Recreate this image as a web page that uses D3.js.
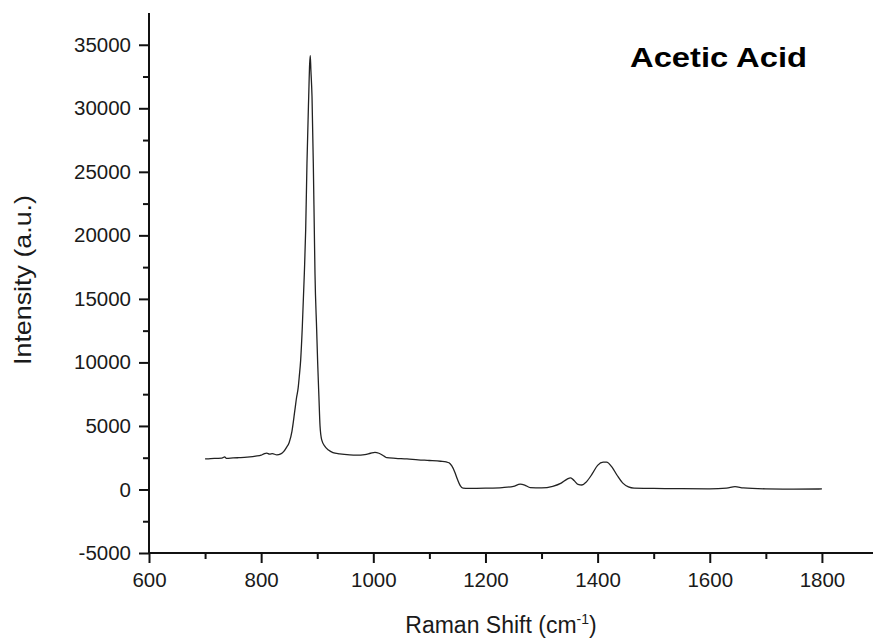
<!DOCTYPE html>
<html>
<head>
<meta charset="utf-8">
<script src="https://cdn.jsdelivr.net/npm/d3@7/dist/d3.min.js"></script>
<style>
    body { margin: 0; background: #fff; }
    svg text { font-family: "Liberation Sans", Arial, sans-serif; fill: #1a1a1a; }
    .tickLabel { font-size: 20.5px; }
    .axisLabel { font-size: 23px; }
    .title { font-size: 27px; font-weight: bold; fill: #000; }
</style>
</head>
<body>
<div id="wrapper"></div>
<script>
// Raman spectrum of acetic acid
const ramanShift = [700, 710, 720, 730, 735, 738, 750, 760, 770, 780, 790, 800, 805, 810, 815, 820, 828, 835, 840, 845,
    850, 855, 860, 863, 866, 868, 870.5, 873.4, 877, 879.4, 881.7, 884.8, 886.5, 887.6, 888.7, 890.7, 893, 894.8, 896, 899,
    900.8, 903, 905, 908, 914, 920, 928, 940, 958, 970, 985, 995, 1003, 1010, 1020, 1024, 1040, 1060, 1080, 1100,
    1120, 1130, 1135, 1140, 1145, 1150, 1155, 1160, 1170, 1200, 1230, 1250, 1262, 1270, 1280, 1300, 1320, 1335, 1345, 1352,
    1358, 1365, 1372, 1380, 1390, 1400, 1410, 1416, 1425, 1435, 1445, 1455, 1465, 1500, 1550, 1600, 1630, 1645, 1660, 1700,
    1750, 1800];
const intensity = [2400, 2430, 2450, 2470, 2560, 2450, 2480, 2500, 2520, 2560, 2620, 2700, 2800, 2860, 2780, 2820, 2720, 2800, 2980, 3300,
    3700, 4600, 6200, 7200, 8000, 8900, 10200, 12800, 17000, 20430, 25680, 30930, 33500, 34150, 33000, 30930, 25680, 20430, 17000, 12560,
    9960, 7300, 5000, 3900, 3370, 3100, 2900, 2800, 2720, 2700, 2750, 2850, 2920, 2850, 2600, 2500, 2450, 2400, 2330, 2280,
    2220, 2170, 2100, 1850, 1400, 800, 300, 100, 80, 100, 150, 250, 420, 350, 150, 120, 250, 500, 800, 920,
    700, 400, 350, 600, 1200, 1900, 2150, 2150, 1800, 1100, 500, 200, 100, 80, 60, 50, 100, 220, 120, 50,
    30, 40];

const xMajorTicks = [600, 800, 1000, 1200, 1400, 1600, 1800];
const xMinorTicks = [700, 900, 1100, 1300, 1500, 1700];
const yMajorTicks = [-5000, 0, 5000, 10000, 15000, 20000, 25000, 30000, 35000];
const yMinorTicks = [-2500, 2500, 7500, 12500, 17500, 22500, 27500, 32500];

const titleText = "Acetic Acid";

function drawChart() {
    const width = 873;
    const height = 642;

    // Achsen-Position in Pixel
    const dims = {
        left: 149,
        right: 878,
        top: 13,
        bottom: 553
    };

    const svg = d3.select('#wrapper')
        .append('svg')
        .attr('width', width)
        .attr('height', height);

    const x = d3.scaleLinear()
        .domain([600, 1900])
        .range([dims.left, dims.right]);

    const y = d3.scaleLinear()
        .domain([-5000, 37500])
        .range([dims.bottom, dims.top]);

    const data = ramanShift.map((d, i) => ({ x: d, y: intensity[i] }));

    // Bindestrich statt Unicode-Minus wie im Original
    const plainFormat = d => String(d);

    /// KURVE ///////////////////////////////
    const line = d3.line()
        .x(d => x(d.x))
        .y(d => y(d.y))
        .curve(d3.curveMonotoneX);

    svg.append('path')
        .datum(data)
        .attr('d', line)
        .attr('fill', 'none')
        .attr('stroke', '#222')
        .attr('stroke-width', 1.3)
        .attr('stroke-linejoin', 'round');

    /// ACHSEN ///////////////////////////////
    const xAxis = svg.append('g')
        .attr('transform', `translate(0, ${dims.bottom})`)
        .call(d3.axisBottom(x).tickValues(xMajorTicks).tickSize(10).tickPadding(9).tickFormat(plainFormat));

    xAxis.append('g')
        .call(d3.axisBottom(x).tickValues(xMinorTicks).tickSize(6).tickFormat(''))
        .select('.domain').remove();

    const yAxis = svg.append('g')
        .attr('transform', `translate(${dims.left}, 0)`)
        .call(d3.axisLeft(y).tickValues(yMajorTicks).tickSize(10).tickPadding(8).tickFormat(plainFormat));

    yAxis.append('g')
        .call(d3.axisLeft(y).tickValues(yMinorTicks).tickSize(6).tickFormat(''))
        .select('.domain').remove();

    svg.selectAll('.domain')
        .attr('stroke', '#111')
        .attr('stroke-width', 2);
    svg.selectAll('.tick line')
        .attr('stroke', '#111')
        .attr('stroke-width', 2);
    svg.selectAll('.tick text')
        .attr('class', 'tickLabel')
        .attr('fill', '#1a1a1a');

    // nur gerade Achsenlinien
    xAxis.select('.domain').attr('d', `M${dims.left},0H${dims.right}`);
    yAxis.select('.domain').attr('d', `M0,${dims.top}V${dims.bottom}`);

    /// LABELS ///////////////////////////////
    const xLabel = svg.append('text')
        .attr('class', 'axisLabel')
        .attr('x', 501)
        .attr('y', 633)
        .attr('text-anchor', 'middle');
    xLabel.append('tspan').text('Raman Shift (cm');
    xLabel.append('tspan').attr('dy', -9).style('font-size', '14px').text('-1');
    xLabel.append('tspan').attr('dy', 9).text(')');

    svg.append('text')
        .attr('class', 'axisLabel')
        .style('font-size', '24px')
        .attr('transform', 'translate(31, 280) rotate(-90)')
        .attr('text-anchor', 'middle')
        .attr('textLength', 170)
        .attr('lengthAdjust', 'spacingAndGlyphs')
        .text('Intensity (a.u.)');

    svg.append('text')
        .attr('class', 'title')
        .attr('x', 630)
        .attr('y', 67)
        .attr('textLength', 177)
        .attr('lengthAdjust', 'spacingAndGlyphs')
        .text(titleText);
}

drawChart();
</script>
</body>
</html>
